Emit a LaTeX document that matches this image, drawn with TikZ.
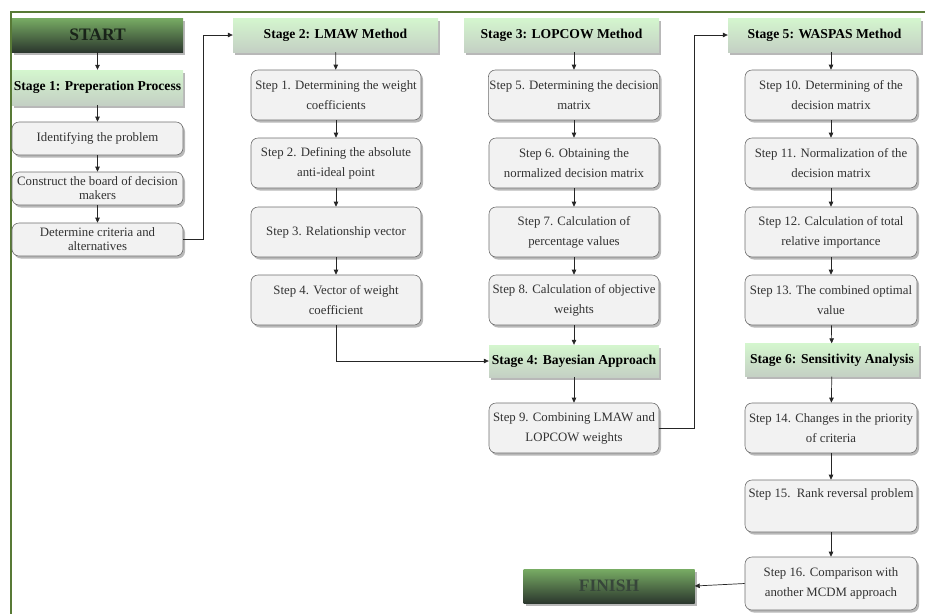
\documentclass[tikz,border=0pt]{standalone}
\usepackage{fontspec}
\setmainfont{Liberation Serif}
\usetikzlibrary{shadows,arrows.meta}
\definecolor{frameol}{RGB}{88,122,54}
\definecolor{hdtop}{RGB}{212,246,206}
\definecolor{hdbot}{RGB}{196,208,196}
\definecolor{sttop}{RGB}{120,172,100}
\definecolor{stbot}{RGB}{44,56,46}
\definecolor{boxfill}{RGB}{242,242,242}
\definecolor{boxline}{RGB}{110,110,110}
\definecolor{txtgray}{RGB}{50,50,50}
\tikzset{
  shd/.style={drop shadow={shadow xshift=2pt,shadow yshift=-2.5pt,fill=black,opacity=0.28}},
  hdr/.style={shd,rectangle,top color=hdtop,bottom color=hdbot,draw=none,
    minimum height=34pt,inner sep=1pt,font=\fontsize{13.6}{15}\selectfont\bfseries,text=black},
  term/.style={shd,rectangle,top color=sttop,bottom color=stbot,draw=none,
    minimum width=171pt,minimum height=34pt,font=\fontsize{17.5}{19}\selectfont\bfseries},
  stepbox/.style={shd,rectangle,rounded corners=7pt,fill=boxfill,draw=boxline,line width=0.6pt,
    minimum width=170pt,minimum height=50pt,align=center,inner sep=1pt,
    font=\fontsize{12.8}{20}\selectfont,text=txtgray},
  smallbox/.style={stepbox,minimum width=171pt,minimum height=33pt,font=\fontsize{12.8}{14}\selectfont},
  conn/.style={draw=black!85,line width=0.7pt,-{Triangle[length=5pt,width=4.5pt]}}
}
\begin{document}
\begin{tikzpicture}[x=1pt,y=-1pt]
\useasboundingbox (0,0) rectangle (925,614);
\draw[frameol,line width=2pt] (925,12) -- (11,12) -- (11,614);
% column 1
\node[term,text={rgb,255:red,25;green,35;blue,25}] (start) at (97.5,35) {START};
\node[hdr,minimum width=171pt,minimum height=35pt] (s1) at (97.5,87.5) {Stage 1: Preperation Process};
\node[smallbox] (id) at (97.5,138.5) {Identifying the problem};
\node[smallbox] (cb) at (97.5,188.5) {Construct the board of decision\\makers};
\node[smallbox] (dc) at (97.5,239.5) {Determine criteria and\\alternatives};
% column 2
\node[hdr,minimum width=205pt] (st2) at (335.5,35) {Stage 2: LMAW Method};
\node[stepbox] (p1) at (336,95) {Step 1. Determining the weight\\coefficients};
\node[stepbox] (p2) at (336,163) {Step 2. Defining the absolute\\anti-ideal point};
\node[stepbox] (p3) at (336,232) {Step 3. Relationship vector};
\node[stepbox] (p4) at (336,300) {Step 4. Vector of weight\\coefficient};
% column 3
\node[hdr,minimum width=195pt] (st3) at (561.5,35) {Stage 3: LOPCOW Method};
\node[stepbox] (p5) at (574,95) {Step 5. Determining the decision\\matrix};
\node[stepbox] (p6) at (574,163) {Step 6. Obtaining the\\normalized decision matrix};
\node[stepbox] (p7) at (574,232) {Step 7. Calculation of\\percentage values};
\node[stepbox] (p8) at (574,300) {Step 8. Calculation of objective\\weights};
\node[hdr,minimum width=170pt,minimum height=32pt] (st4) at (574,361) {Stage 4: Bayesian Approach};
\node[stepbox] (p9) at (574,428) {Step 9. Combining LMAW and\\LOPCOW weights};
% column 4
\node[hdr,minimum width=193pt] (st5) at (824.5,35) {Stage 5: WASPAS Method};
\node[stepbox,minimum width=172pt] (p10) at (831,95) {Step 10. Determining of the\\decision matrix};
\node[stepbox,minimum width=172pt] (p11) at (831,163) {Step 11. Normalization of the\\decision matrix};
\node[stepbox,minimum width=172pt] (p12) at (831,232) {Step 12. Calculation of total\\relative importance};
\node[stepbox,minimum width=172pt] (p13) at (831,300) {Step 13. The combined optimal\\value};
\node[hdr,minimum width=174pt,minimum height=33pt] (st6) at (832,360) {Stage 6: Sensitivity Analysis};
\node[stepbox,minimum width=172pt] (p14) at (831,428) {Step 14. Changes in the priority\\of criteria};
\node[stepbox,minimum width=172pt,minimum height=52pt] (p15) at (831,506) {Step 15.\ \ Rank reversal problem\\\strut};
\node[stepbox,minimum width=172pt,minimum height=53pt] (p16) at (831,583.5) {Step 16. Comparison with\\another MCDM approach};
\node[term,text={rgb,255:red,55;green,70;blue,58}] (finish) at (609,586) {FINISH};
% connectors
\draw[conn] (start) -- (s1);
\draw[conn] (s1) -- (id);
\draw[conn] (id) -- (cb);
\draw[conn] (cb) -- (dc);
\coordinate (e1) at (203,239.5);
\draw[conn] (dc.east) -- (e1) |- (st2.west);
\draw[conn] (st2) -- (p1);
\draw[conn] (p1) -- (p2);
\draw[conn] (p2) -- (p3);
\draw[conn] (p3) -- (p4);
\draw[conn] (p4.south) |- (st4.west);
\draw[conn] (st3.south -| p5.north) -- (p5.north);
\draw[conn] (p5) -- (p6);
\draw[conn] (p6) -- (p7);
\draw[conn] (p7) -- (p8);
\draw[conn] (p8) -- (st4);
\draw[conn] (st4) -- (p9);
\coordinate (e2) at (694,428);
\draw[conn] (p9.east) -- (e2) |- (st5.west);
\draw[conn] (st5.south -| p10.north) -- (p10.north);
\draw[conn] (p10) -- (p11);
\draw[conn] (p11) -- (p12);
\draw[conn] (p12) -- (p13);
\draw[conn] (p13) -- (st6);
\draw[conn] (st6) -- (p14);
\draw[conn] (p14) -- (p15);
\draw[conn] (p15) -- (p16);
\draw[conn] (p16.west) -- (finish.east);
\end{tikzpicture}
\end{document}
